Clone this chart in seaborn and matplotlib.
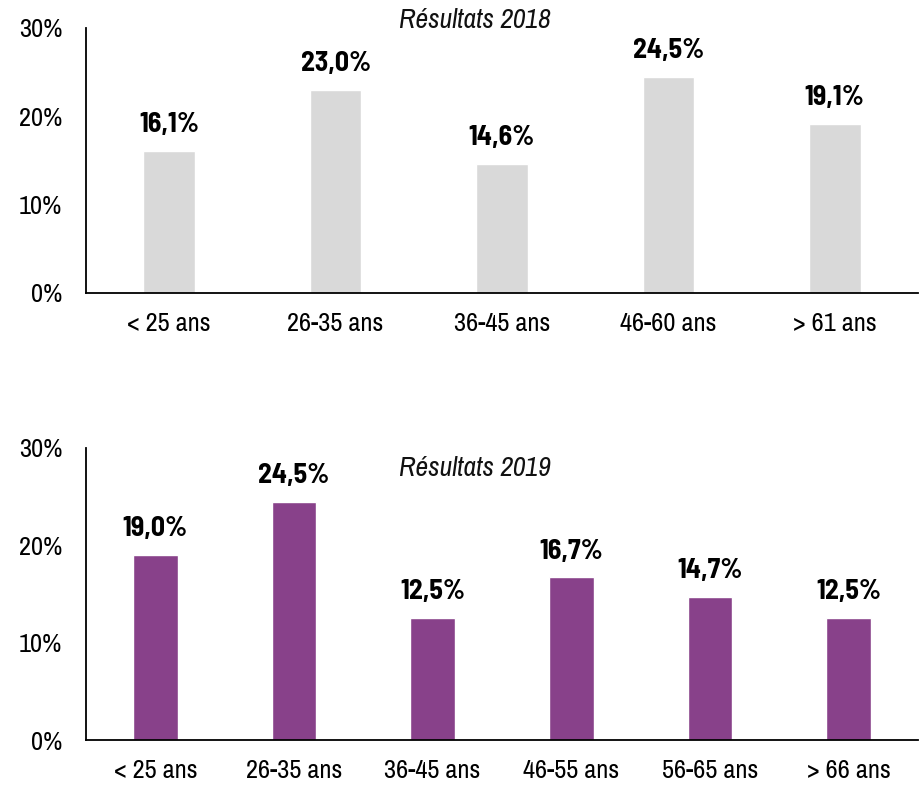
import matplotlib
matplotlib.use("Agg")
import matplotlib.pyplot as plt
import seaborn as sns
import pandas as pd
from matplotlib.ticker import FuncFormatter

# Age groups and shares (%) per survey year
cats_2018 = ["< 25 ans", "26-35 ans", "36-45 ans", "46-60 ans", "> 61 ans"]
vals_2018 = [16.1, 23.0, 14.6, 24.5, 19.1]
cats_2019 = ["< 25 ans", "26-35 ans", "36-45 ans", "46-55 ans", "56-65 ans", "> 66 ans"]
vals_2019 = [19.0, 24.5, 12.5, 16.7, 14.7, 12.5]
yticks = [0, 10, 20, 30]

sns.set_theme(style="white")
plt.rcParams["font.family"] = ["Archivo Narrow", "DejaVu Sans"]
BOLD_FONT = ["Barlow Semi Condensed", "DejaVu Sans"]

fig = plt.figure(figsize=(9.21, 7.85), dpi=100)
ax1 = fig.add_axes([0.0934, 0.6268, 0.9033, 0.3376])
ax2 = fig.add_axes([0.0934, 0.0573, 0.9033, 0.3720])

df18 = pd.DataFrame({"age": cats_2018, "pct": vals_2018})
df19 = pd.DataFrame({"age": cats_2019, "pct": vals_2019})

sns.barplot(data=df18, x="age", y="pct", color="#D9D9D9", saturation=1,
            width=0.31, ax=ax1)
sns.barplot(data=df19, x="age", y="pct", color="#88418A", saturation=1,
            width=0.32, ax=ax2)

pct_fmt = FuncFormatter(lambda v, _: f"{v:.0f}%")

for ax, vals in ((ax1, vals_2018), (ax2, vals_2019)):
    ax.set_ylim(0, 30)
    ax.set_xlim(-0.5, len(vals) - 0.5)
    ax.set_yticks(yticks)
    ax.yaxis.set_major_formatter(pct_fmt)
    ax.set_xlabel("")
    ax.set_ylabel("")
    for side in ("top", "right"):
        ax.spines[side].set_visible(False)
    for side in ("left", "bottom"):
        ax.spines[side].set_color("black")
        ax.spines[side].set_linewidth(1.3)
    ax.tick_params(axis="both", length=0, labelsize=19, colors="black")
    ax.tick_params(axis="y", pad=17)
    ax.tick_params(axis="x", pad=14)
    for i, v in enumerate(vals):
        ax.annotate(f"{v:.1f}%".replace(".", ","), (i, v),
                    xytext=(0, 10), textcoords="offset points",
                    ha="center", va="bottom", fontsize=20,
                    fontweight="bold", family=BOLD_FONT, color="black")

fig.text(475 / 921, 1 - 20 / 785, "Résultats 2018", ha="center", va="center",
         fontsize=20, fontstyle="italic", color="#111111")
fig.text(475 / 921, 1 - 468 / 785, "Résultats 2019", ha="center", va="center",
         fontsize=20, fontstyle="italic", color="#111111")

fig.savefig("out.png", dpi=100)
